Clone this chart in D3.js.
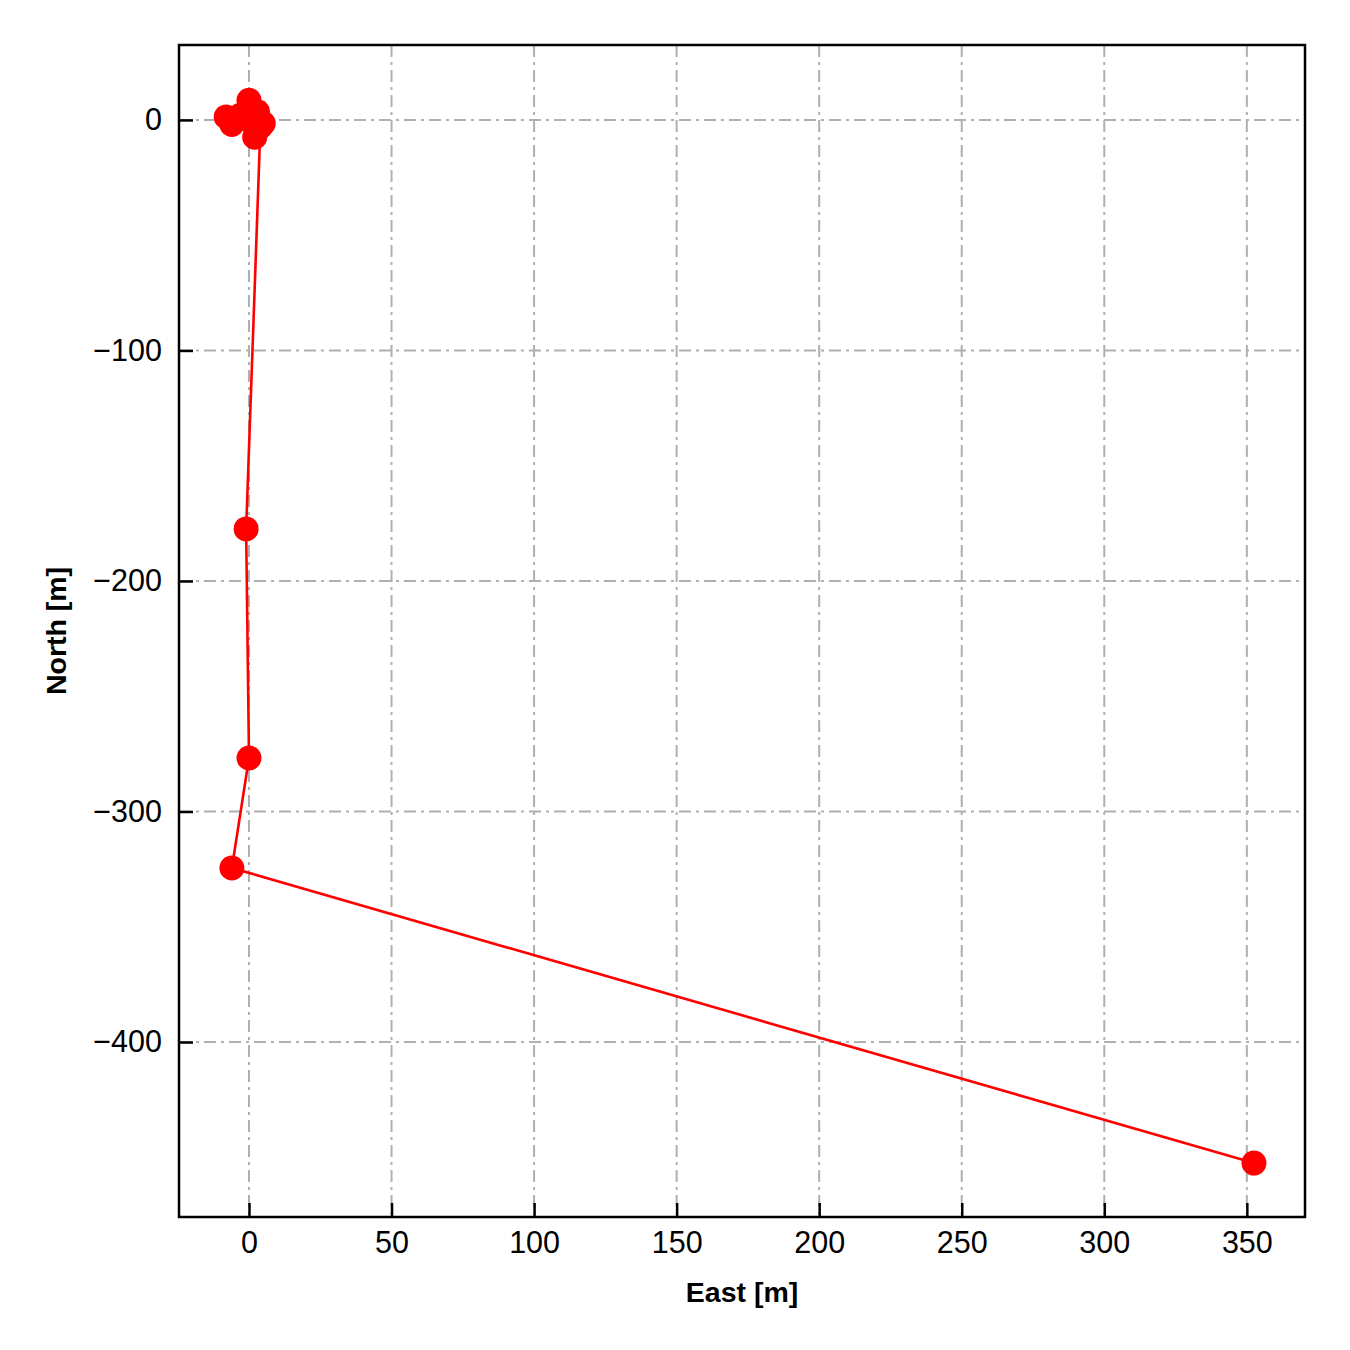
<!DOCTYPE html>
<html><head><meta charset="utf-8">
<script src="https://cdn.jsdelivr.net/npm/d3@7"></script>
<style>body{margin:0;background:#fff}svg{display:block}</style>
</head><body>
<script>
const eastValues = [0, -8, -6, -3, 0, 3, 5, 2, 1, 4, -1, 0, -6, 352.5];
const northValues = [0, 1.3, -2, 2, 8.5, 3.5, -1.5, -7.5, -1, -3, -177.4, -276.8, -324.5, -452.5];
const xTicks = [0, 50, 100, 150, 200, 250, 300, 350];
const yTicks = [0, -100, -200, -300, -400];
const xDomain = [-24.55, 370.4];
const yDomain = [-475.9, 32.5];

const W = 1350, H = 1350;
const L = 179, R = 1305, T = 45, B = 1217;
const svg = d3.select("body").append("svg").attr("width", W).attr("height", H);
const x = d3.scaleLinear().domain(xDomain).range([L, R]);
const y = d3.scaleLinear().domain(yDomain).range([B, T]);
const font = "Liberation Sans, Arial, sans-serif";

// grid
const grid = svg.append("g").attr("stroke", "#b0b0b0").attr("stroke-width", 2).attr("stroke-dasharray", "12,5,3,5");
grid.selectAll(".gx").data(xTicks).join("line").attr("x1", d => x(d)).attr("x2", d => x(d)).attr("y1", T).attr("y2", B);
grid.selectAll(".gy").data(yTicks).join("line").attr("y1", d => y(d)).attr("y2", d => y(d)).attr("x1", L).attr("x2", R);

// axes
const fmt = d => d < 0 ? "\u2212" + Math.abs(d) : String(d);
const xa = svg.append("g").attr("transform", `translate(0,${B})`)
  .call(d3.axisBottom(x).tickValues(xTicks).tickFormat(fmt).tickSize(-14).tickPadding(14));
const ya = svg.append("g").attr("transform", `translate(${L},0)`)
  .call(d3.axisLeft(y).tickValues(yTicks).tickFormat(fmt).tickSize(-14).tickPadding(17));
[xa, ya].forEach(a => {
  a.select(".domain").remove();
  a.selectAll(".tick line").attr("stroke", "#000").attr("stroke-width", 2.5);
  a.selectAll("text").attr("font-family", font).attr("font-size", 30.5).attr("fill", "#000");
});

// data line and markers
const pts = eastValues.map((e, i) => [e, northValues[i]]);
svg.append("path").datum(pts)
  .attr("d", d3.line().x(d => x(d[0])).y(d => y(d[1])))
  .attr("fill", "none").attr("stroke", "#ff0000").attr("stroke-width", 2.6);
svg.append("g").selectAll("circle").data(pts).join("circle")
  .attr("cx", d => x(d[0])).attr("cy", d => y(d[1])).attr("r", 12.5).attr("fill", "#ff0000");

// frame
svg.append("rect").attr("x", L).attr("y", T).attr("width", R - L).attr("height", B - T)
  .attr("fill", "none").attr("stroke", "#000").attr("stroke-width", 2.5);

// axis labels
svg.append("text").attr("x", (L + R) / 2).attr("y", 1302).attr("text-anchor", "middle")
  .attr("font-family", font).attr("font-weight", "bold").attr("font-size", 28.5).text("East [m]");
svg.append("text").attr("transform", `translate(66,${(T + B) / 2}) rotate(-90)`).attr("text-anchor", "middle")
  .attr("font-family", font).attr("font-weight", "bold").attr("font-size", 28.5).text("North [m]");
</script>
</body></html>
